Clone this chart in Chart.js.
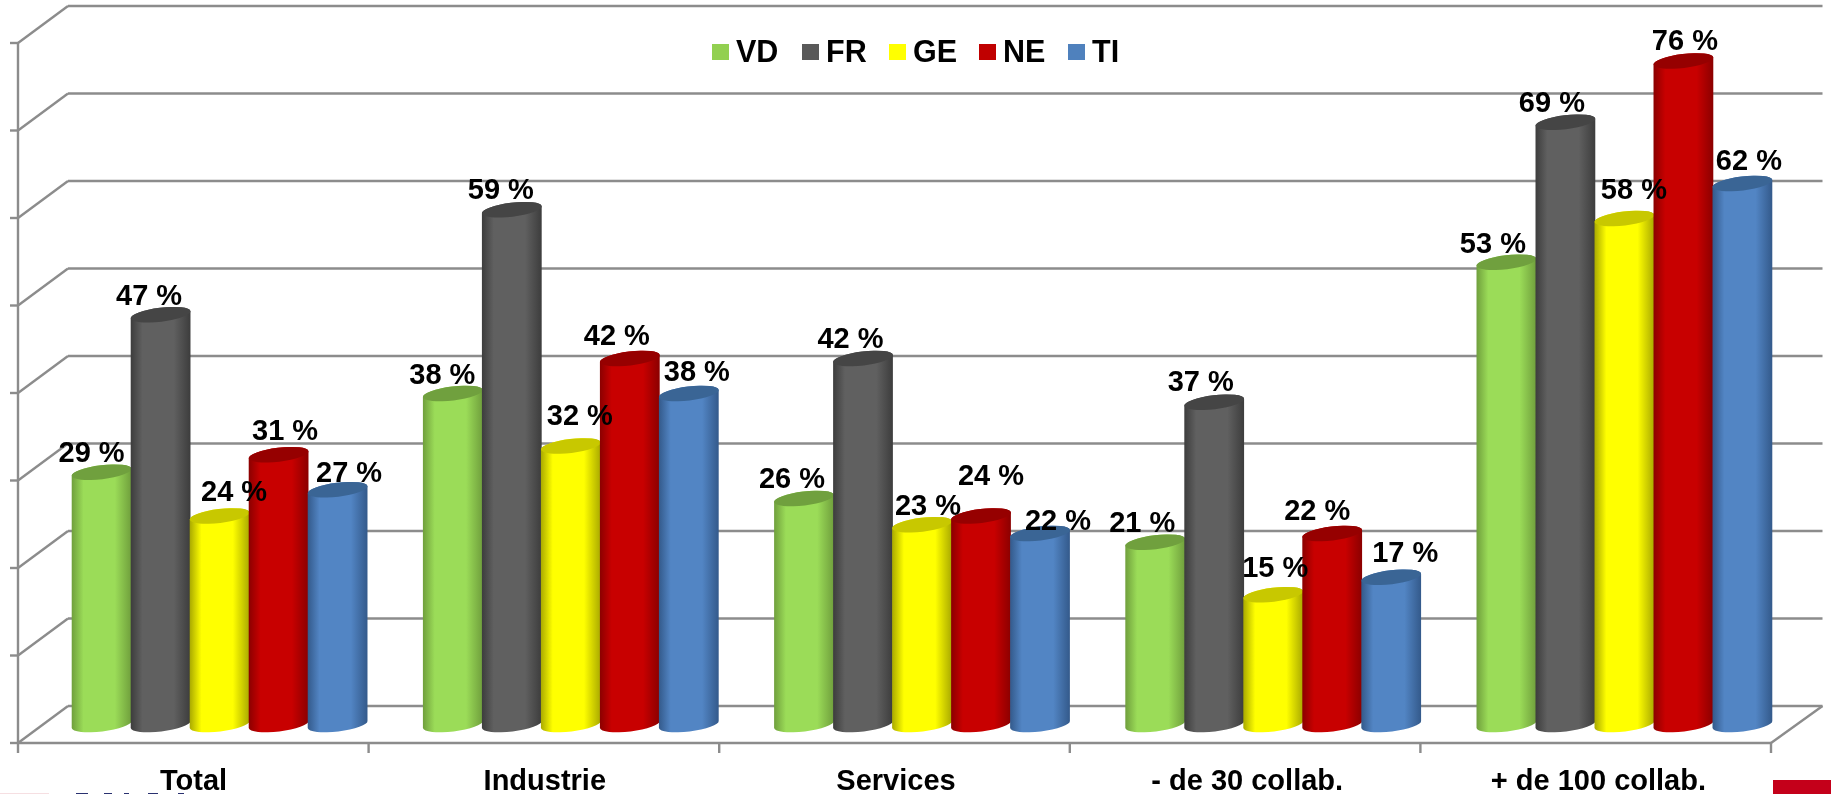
<!DOCTYPE html>
<html>
<head>
<meta charset="utf-8">
<style>
html,body{margin:0;padding:0;background:#fff;overflow:hidden}
#wrap{width:1831px;height:794px;position:relative}
</style>
<script src="https://cdn.jsdelivr.net/npm/chart.js@4/dist/chart.umd.js"></script>
</head>
<body>
<div id="wrap"><canvas id="c" width="1831" height="794"></canvas></div>
<script>
const categories = ['Total', 'Industrie', 'Services', '- de 30 collab.', '+ de 100 collab.'];
const seriesNames = ['VD', 'FR', 'GE', 'NE', 'TI'];
const VD = [29, 38, 26, 21, 53];
const FR = [47, 59, 42, 37, 69];
const GE = [24, 32, 23, 15, 58];
const NE = [31, 42, 24, 22, 76];
const TI = [27, 38, 22, 17, 62];
const yTicksMax = 80;
const yTicksStep = 10;

// Styles: [side edge, centre, top cap]
const palette = [
  ['#6f9e3c', '#9bdc58', '#70a03e'],
  ['#3c3c3c', '#606060', '#454545'],
  ['#a8a800', '#ffff00', '#c8c800'],
  ['#8a0000', '#c80000', '#960000'],
  ['#33598a', '#5285c4', '#3a6595']
];
const legendColors = ['#92d050', '#595959', '#ffff00', '#c00000', '#4f81bd'];
// Hand placement of each data label relative to its bar top: [dx, dy]
const labelShift = [
  [[-10,-17],[-10.5,-16],[-12,-17],[-13,-17],[-13.5,-16]],
  [[-11.5,-16],[-11,-17],[-12.5,-17.5],[-13.5,-18],[-13.5,-17]],
  [[14.5,-22],[9,-28],[6,-16],[2,-24],[9.5,-26]],
  [[6.5,-21.5],[-13,-20],[10,-38],[-15,-20],[1.5,-18]],
  [[11.5,-14.5],[8,-19],[18,-10.5],[14,-22],[6.5,-20]]
];
const FONT = 'bold 29px "Liberation Sans", Arial, sans-serif';
const GRID = '#8c8c8c';
const FRONT_L = -26, FRONT_R = -29, BACK_L = 24, BACK_R = 22.5, DEPTH_DY = 18.5;

const wallPlugin = {
  id: 'wall3d',
  beforeDatasetDraw() { return false; },
  beforeDatasetsDraw(chart) {
    const ctx = chart.ctx, y = chart.scales.y, a = chart.chartArea;
    ctx.save();
    ctx.strokeStyle = GRID; ctx.lineWidth = 2.4; ctx.lineCap = 'butt';
    const L = a.left + FRONT_L, R = a.right + FRONT_R;
    const BL = a.left + BACK_L, BR = a.right + BACK_R;
    const seg = (x1, y1, x2, y2) => { ctx.beginPath(); ctx.moveTo(x1, y1); ctx.lineTo(x2, y2); ctx.stroke(); };
    y.ticks.forEach(t => {
      const py = y.getPixelForValue(t.value);
      seg(BL, py - DEPTH_DY, BR, py - DEPTH_DY);
      seg(L, py + DEPTH_DY, BL, py - DEPTH_DY);
      seg(L - 8, py + DEPTH_DY, L, py + DEPTH_DY);
    });
    const y0 = y.getPixelForValue(0);
    const yTop = y.getPixelForValue(yTicksMax);
    seg(L, yTop + DEPTH_DY, L, y0 + DEPTH_DY);
    seg(L, y0 + DEPTH_DY, R, y0 + DEPTH_DY);
    seg(R, y0 + DEPTH_DY, BR, y0 - DEPTH_DY);
    const step = (R - L) / categories.length;
    for (let i = 0; i <= categories.length; i++) {
      seg(L + step * i, y0 + DEPTH_DY, L + step * i, y0 + DEPTH_DY + 10);
    }
    // Page furniture cut off at the bottom edge
    ctx.fillStyle = '#c4001a'; ctx.fillRect(1773, 780, 58, 14);
    ctx.fillStyle = '#f6dfe2'; ctx.fillRect(0, 793, 49, 1);
    ctx.fillStyle = '#2a3170';
    [[76,12],[104,8],[124,5],[148,10],[178,6]].forEach(r => ctx.fillRect(r[0], 793, r[1], 1));
    ctx.restore();

    // cylinders, first series at the back
    chart.data.datasets.forEach((ds, di) => {
      const meta = chart.getDatasetMeta(di);
      const pal = palette[di];
      meta.data.forEach(bar => {
        const cx = bar.x, top = bar.y + 1.5, base = bar.base;
        const rx = bar.width / 2 + 0.6, ry = 7, rot = -0.12;
        const g = ctx.createLinearGradient(cx - rx, 0, cx + rx, 0);
        g.addColorStop(0, pal[0]);
        g.addColorStop(0.2, pal[1]);
        g.addColorStop(0.72, pal[1]);
        g.addColorStop(1, pal[0]);
        ctx.save();
        ctx.beginPath();
        ctx.ellipse(cx, base, rx, ry, rot, 0, Math.PI);
        ctx.ellipse(cx, top, rx, ry, rot, Math.PI, Math.PI * 2);
        ctx.closePath();
        ctx.fillStyle = g;
        ctx.fill();
        ctx.beginPath();
        ctx.ellipse(cx, top, rx, ry, rot, 0, Math.PI * 2);
        ctx.fillStyle = pal[2];
        ctx.fill();
        ctx.restore();
      });
    });
  },
  afterDatasetsDraw(chart) {
    const ctx = chart.ctx;
    ctx.save();
    ctx.font = FONT; ctx.fillStyle = '#000';
    ctx.textAlign = 'center'; ctx.textBaseline = 'middle';
    chart.data.datasets.forEach((ds, di) => {
      chart.getDatasetMeta(di).data.forEach((bar, i) => {
        const s = labelShift[di][i];
        ctx.fillText(ds.data[i] + ' %', bar.x + s[0], bar.y + s[1]);
      });
    });
    // legend
    const swatchX = [712, 802, 889, 979, 1068];
    ctx.font = 'bold 30.5px "Liberation Sans", Arial, sans-serif';
    ctx.textAlign = 'left'; ctx.textBaseline = 'alphabetic';
    seriesNames.forEach((n, i) => {
      ctx.fillStyle = legendColors[i];
      ctx.fillRect(swatchX[i], 44, 17, 16);
      ctx.fillStyle = '#000';
      ctx.fillText(n, swatchX[i] + 24, 62);
    });
    ctx.restore();
  }
};

const series = [VD, FR, GE, NE, TI];
new Chart(document.getElementById('c'), {
  type: 'bar',
  data: {
    labels: categories,
    datasets: seriesNames.map((n, i) => ({
      label: n, data: series[i], backgroundColor: legendColors[i],
      categoryPercentage: 0.84, barPercentage: 1
    }))
  },
  plugins: [wallPlugin],
  options: {
    responsive: false, animation: false,
    layout: { padding: { left: 44, right: 31, top: 24.5, bottom: 0 } },
    plugins: { legend: { display: false }, tooltip: { enabled: false }, title: { display: false } },
    scales: {
      x: {
        grid: { display: false }, border: { display: false },
        afterFit(s) { s.height = 69.5; },
        ticks: {
          color: '#000', font: { family: '"Liberation Sans", Arial, sans-serif', size: 29, weight: 'bold' },
          labelOffset: -26, padding: 32, maxRotation: 0, autoSkip: false
        }
      },
      y: {
        min: 0, max: yTicksMax, grid: { display: false }, border: { display: false },
        afterFit(s) { s.width = 0; },
        ticks: { display: false, stepSize: yTicksStep }
      }
    }
  }
});
</script>
</body>
</html>
